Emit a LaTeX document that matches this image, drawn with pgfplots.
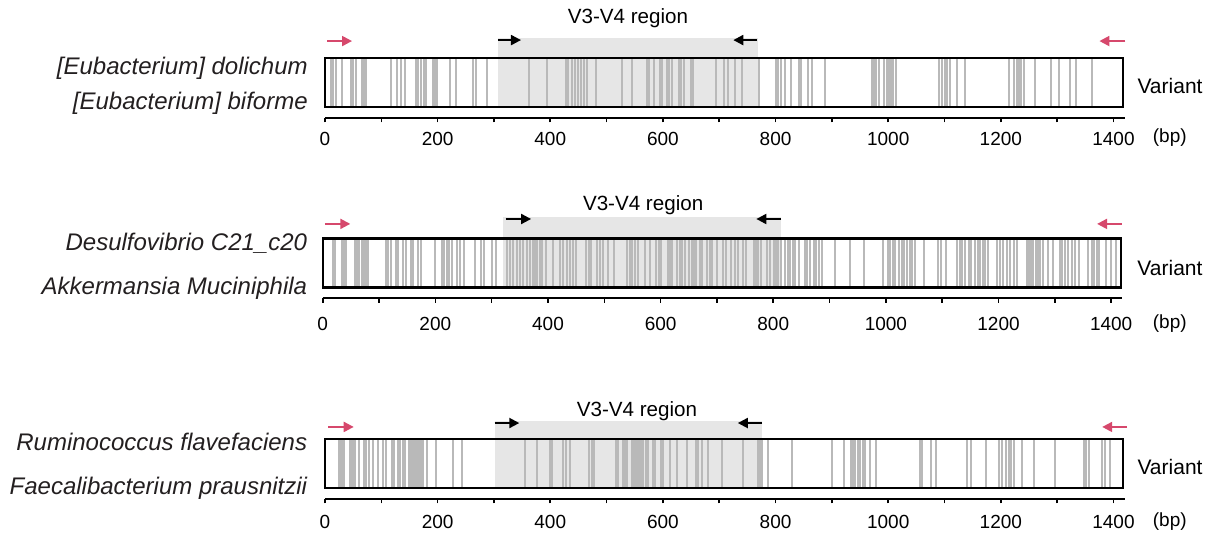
\documentclass[border=0pt]{standalone}
\usepackage{pgfplots}
\pgfplotsset{compat=1.18}
\usepackage{fontspec}
\setmainfont{Liberation Sans}
\usetikzlibrary{arrows.meta}
\definecolor{varcol}{RGB}{185,185,185}
\definecolor{shadecol}{RGB}{230,230,230}
\definecolor{pinkc}{RGB}{214,72,108}
\definecolor{namec}{RGB}{35,31,32}
\pgfkeys{/pgf/number format/1000 sep={}}
\pgfplotsset{
  panel/.style={
    x=0.2816pt, y=24.5pt,
    xmin=0, xmax=1420, ymin=-0.22, ymax=1.5,
    axis x line*=bottom, axis y line=none,
    clip=false, anchor=origin,
    xtick={0,200,...,1400}, minor xtick={100,300,...,1300},
    tick align=outside, major tick length=2.2pt, minor tick length=2.2pt,
    every tick/.style={black, line width=0.8pt},
    axis line style={line width=1pt},
    ticklabel style={font=\fontsize{9.5}{11}\selectfont},
    /pgf/number format/assume math mode=true,
  },
  vline/.style={ycomb, draw=varcol, line width=1pt, mark=none},
}
\tikzset{
  pinkarr/.style={pinkc, line width=1pt, -{Triangle[length=5pt, width=5pt]}},
  blackarr/.style={black, line width=1pt, -{Triangle[length=5pt, width=5pt]}},
  namefont/.style={anchor=east, inner sep=0pt, text=namec, font=\fontsize{12}{14}\selectfont\itshape},
  boxline/.style={line width=1.1pt},
}
\begin{document}
\begin{tikzpicture}
\useasboundingbox (0,0) rectangle (608pt,268pt);
% ---------------- Panel 1 ----------------
\begin{axis}[panel, at={(162.5pt,214.4pt)}, xticklabel style={yshift=-1.5pt}]
\addplot[fill=shadecol, draw=none] coordinates {(307,0) (307,1.41) (769,1.41) (769,0)} -- cycle;
\addplot[vline] coordinates {
(10.7,1) (14.8,1) (19.5,1) (29.6,1) (46,1) (50,1) (54.5,1) (65,1) (70,1) (73,1)
(117,1) (127,1) (135,1) (142,1) (162,1) (166,1) (170,1) (176,1) (179,1) (191,1)
(195,1) (198,1) (222,1) (232,1) (262,1) (268,1) (288,1) (363,1) (394,1) (428,1)
(432,1) (439,1) (444,1) (450,1) (454,1) (459,1) (465,1) (482,1) (527,1) (545,1)
(571,1) (575,1) (585,1) (594,1) (598,1) (607,1) (611,1) (616,1) (628,1) (632,1)
(637,1) (649,1) (654,1) (694,1) (708,1) (716,1) (728,1) (740,1) (771,1) (800,1)
(805,1) (809,1) (817,1) (828,1) (842,1) (846,1) (857,1) (864,1) (888,1) (971,1)
(975,1) (979,1) (984,1) (993,1) (997,1) (1001,1) (1005,1) (1009,1) (1013,1) (1090,1)
(1095,1) (1100,1) (1104,1) (1110,1) (1122,1) (1137,1) (1214,1) (1224,1) (1228,1) (1232,1)
(1236,1) (1241,1) (1260,1) (1289,1) (1304,1) (1322,1) (1334,1) (1362,1)
};
\draw[boxline] (axis cs:0,0) rectangle (axis cs:1417,1);
\draw[pinkarr] (axis cs:4,1.35) -- (axis cs:48,1.35);
\draw[pinkarr] (axis cs:1421,1.35) -- (axis cs:1375,1.35);
\draw[blackarr] (axis cs:307,1.37) -- (axis cs:348,1.37);
\draw[blackarr] (axis cs:767,1.37) -- (axis cs:725,1.37);
\node[inner sep=0pt, font=\fontsize{10.3}{12}\selectfont] at (axis cs:538,1.82) {V3-V4 region};
\node[namefont] at (axis cs:-30,0.80) {[Eubacterium] dolichum};
\node[namefont] at (axis cs:-30,0.07) {[Eubacterium] biforme};
\node[anchor=west, inner sep=0pt, font=\fontsize{10.5}{12}\selectfont] at (axis cs:1442,0.43) {Variant};
\node[inner sep=0pt, font=\fontsize{9.5}{11}\selectfont] at (axis cs:1500,-0.63) {(bp)};
\end{axis}
% ---------------- Panel 2 ----------------
\begin{axis}[panel, at={(161.35pt,124.2pt)}, xticklabel style={yshift=-3.5pt}]
\addplot[fill=shadecol, draw=none] coordinates {(320,0) (320,1.44) (813,1.44) (813,0)} -- cycle;
\addplot[vline] coordinates {
(17.7,1) (21.9,1) (35,1) (38,1) (41,1) (57,1) (61.5,1) (65,1) (69,1) (73,1)
(77,1) (81,1) (112,1) (116.5,1) (121,1) (130,1) (134,1) (143,1) (148,1) (156,1)
(160,1) (170,1) (174,1) (199,1) (211,1) (215,1) (220,1) (225,1) (229,1) (238,1)
(244,1) (250,1) (270,1) (281,1) (286,1) (300,1) (307,1) (328,1) (332,1) (337,1)
(345,1) (350,1) (355,1) (363,1) (368,1) (373,1) (377,1) (381,1) (385.6,1) (390,1)
(396,1) (409,1) (422,1) (427,1) (433,1) (439,1) (445,1) (449,1) (468,1) (473,1)
(477,1) (487,1) (492,1) (497,1) (507,1) (517,1) (540,1) (545,1) (550,1) (554,1)
(560,1) (572,1) (581,1) (592.5,1) (597,1) (601,1) (613,1) (617,1) (621,1) (629,1)
(634,1) (638,1) (643,1) (650.5,1) (655,1) (659,1) (663.5,1) (670.6,1) (674,1) (682,1)
(687,1) (692,1) (700,1) (710.8,1) (716.7,1) (725.6,1) (731.5,1) (737.4,1) (746.3,1) (752,1)
(765,1) (768.6,1) (772.9,1) (778.8,1) (788.9,1) (793.6,1) (800.7,1) (804,1) (808,1) (814,1)
(821.5,1) (825.6,1) (829.9,1) (834.6,1) (839,1) (845.6,1) (855.6,1) (859.7,1) (864.5,1) (871.6,1)
(876.3,1) (882,1) (886.9,1) (908.9,1) (936.7,1) (960.3,1) (994.6,1) (1003.5,1) (1007.6,1) (1012.4,1)
(1017,1) (1024,1) (1029,1) (1033,1) (1037,1) (1042,1) (1046.6,1) (1050.8,1) (1066.8,1) (1092,1)
(1098,1) (1107,1) (1126,1) (1130.8,1) (1135.5,1) (1139.6,1) (1147,1) (1151.5,1) (1159,1) (1163,1)
(1167.5,1) (1172,1) (1176.8,1) (1181,1) (1197,1) (1201.7,1) (1207.6,1) (1214.7,1) (1219.5,1) (1226.6,1)
(1232.5,1) (1250,1) (1253.8,1) (1258,1) (1262,1) (1265.7,1) (1270,1) (1274,1) (1278.5,1) (1287.4,1)
(1296.4,1) (1309.4,1) (1313,1) (1318.8,1) (1323,1) (1330.7,1) (1334.9,1) (1343.7,1) (1358.5,1) (1366,1)
(1370,1) (1374.4,1) (1379,1) (1391,1) (1400,1) (1408.6,1)
};
\draw[boxline] (axis cs:0,0) rectangle (axis cs:1417,1);
\draw[pinkarr] (axis cs:4,1.30) -- (axis cs:49,1.30);
\draw[pinkarr] (axis cs:1419,1.30) -- (axis cs:1375,1.30);
\draw[blackarr] (axis cs:325,1.40) -- (axis cs:370,1.40);
\draw[blackarr] (axis cs:814,1.40) -- (axis cs:770,1.40);
\node[inner sep=0pt, font=\fontsize{10.3}{12}\selectfont] at (axis cs:569,1.69) {V3-V4 region};
\node[namefont] at (axis cs:-27,0.91) {Desulfovibrio C21\_c20};
\node[namefont] at (axis cs:-27,-0.01) {Akkermansia Muciniphila};
\node[anchor=west, inner sep=0pt, font=\fontsize{10.5}{12}\selectfont] at (axis cs:1446,0.40) {Variant};
\node[inner sep=0pt, font=\fontsize{9.5}{11}\selectfont] at (axis cs:1504,-0.73) {(bp)};
\end{axis}
% ---------------- Panel 3 ----------------
\begin{axis}[panel, at={(162.5pt,23.9pt)}, xticklabel style={yshift=-2.5pt}]
\addplot[fill=shadecol, draw=none] coordinates {(302,0) (302,1.37) (776,1.37) (776,0)} -- cycle;
\addplot[vline] coordinates {
(25.5,1) (28.4,1) (31.4,1) (34.3,1) (44.4,1) (47.4,1) (50.3,1) (53.3,1) (61,1) (69.3,1)
(72.8,1) (78,1) (85.8,1) (94.7,1) (103.6,1) (107.8,1) (119.6,1) (122.6,1) (129.7,1) (133.2,1)
(139,1) (142.7,1) (149,1) (152.8,1) (157,1) (160.4,1) (164,1) (167.6,1) (171,1) (174.7,1)
(180.6,1) (196.6,1) (226.8,1) (244,1) (355,1) (377,1) (399.6,1) (403.8,1) (423,1) (427.5,1)
(435,1) (469.5,1) (473.7,1) (477.8,1) (516,1) (519.8,1) (528.7,1) (532.8,1) (537,1) (544.7,1)
(548.8,1) (552.4,1) (555.4,1) (558.3,1) (561.3,1) (564.2,1) (570,1) (573.7,1) (582,1) (586,1)
(596,1) (599.8,1) (612.8,1) (624.6,1) (642.4,1) (658.4,1) (662,1) (670,1) (680.9,1) (705,1)
(743,1) (769,1) (772.5,1) (775.5,1) (786,1) (828.9,1) (900,1) (922,1) (933.7,1) (937.3,1)
(941.5,1) (945.6,1) (950.3,1) (955,1) (959,1) (967.6,1) (977.7,1) (1055.7,1) (1060.4,1) (1076.4,1)
(1084,1) (1139.7,1) (1146.8,1) (1173.9,1) (1197.5,1) (1201.7,1) (1209.4,1) (1213.6,1) (1217.7,1) (1222.5,1)
(1237.4,1) (1258,1) (1295.4,1) (1348,1) (1351.7,1) (1355.8,1) (1379.5,1) (1385.5,1) (1394.3,1)
};
\draw[boxline] (axis cs:0,0) rectangle (axis cs:1417,1);
\draw[pinkarr] (axis cs:6,1.25) -- (axis cs:51,1.25);
\draw[pinkarr] (axis cs:1424,1.25) -- (axis cs:1380,1.25);
\draw[blackarr] (axis cs:301,1.33) -- (axis cs:345,1.33);
\draw[blackarr] (axis cs:776,1.33) -- (axis cs:733,1.33);
\node[inner sep=0pt, font=\fontsize{10.3}{12}\selectfont] at (axis cs:554,1.58) {V3-V4 region};
\node[namefont] at (axis cs:-31,0.94) {Ruminococcus flavefaciens};
\node[namefont] at (axis cs:-31,0.00) {Faecalibacterium prausnitzii};
\node[anchor=west, inner sep=0pt, font=\fontsize{10.5}{12}\selectfont] at (axis cs:1442,0.43) {Variant};
\node[inner sep=0pt, font=\fontsize{9.5}{11}\selectfont] at (axis cs:1500,-0.69) {(bp)};
\end{axis}
\end{tikzpicture}
\end{document}
